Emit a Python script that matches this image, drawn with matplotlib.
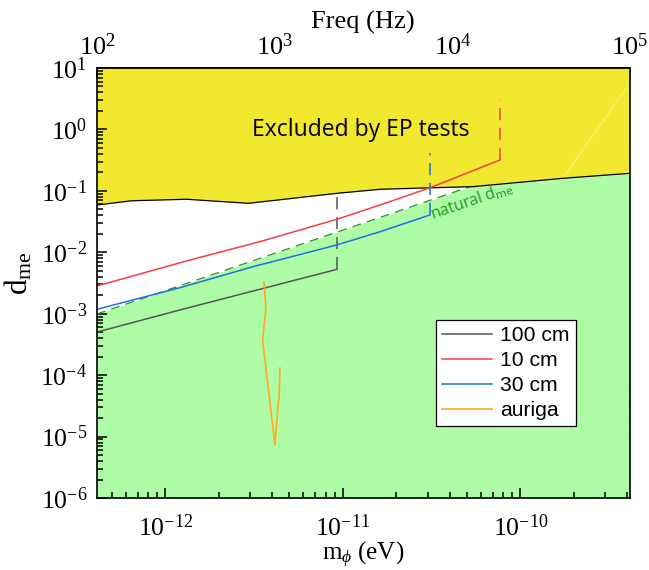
import matplotlib
matplotlib.use("Agg")
import matplotlib.pyplot as plt
import numpy as np
from matplotlib.ticker import FixedLocator, NullFormatter, FuncFormatter

plt.rcParams['font.family'] = ['Liberation Serif', 'DejaVu Serif']
plt.rcParams['mathtext.fontset'] = 'custom'
plt.rcParams['mathtext.rm'] = 'Liberation Serif'
plt.rcParams['mathtext.it'] = 'Liberation Serif:italic'
plt.rcParams['mathtext.bf'] = 'Liberation Serif:bold'

H_EV_S = 4.1357e-15  # eV*s, converts mass to frequency

# ---- data ----
x_limits = [4.1357e-13, 4.1357e-10]
y_limits = [1e-6, 1e1]
x_major = [1e-12, 1e-11, 1e-10]
y_major = [1e-6, 1e-5, 1e-4, 1e-3, 1e-2, 1e-1, 1e0, 1e1]
f_major = [1e2, 1e3, 1e4, 1e5]

ep_m = [4.1357e-13, 6.5e-13, 1.32e-12, 2.94e-12, 9.2e-12, 1.62e-11, 3.09e-11, 5.4e-11, 1.73e-10, 4.1357e-10]
ep_d = [0.0589, 0.069, 0.073, 0.0627, 0.091, 0.106, 0.112, 0.117, 0.16, 0.193]

natural_m = [4.1357e-13, 5.2e-11]
natural_d = [9.9e-4, 0.117]

cm100_m = [4.1357e-13, 1.21e-12, 9.27e-12]
cm100_d = [5.03e-4, 1.15e-3, 5.28e-3]
cm100_cut_d = [5.28e-3, 0.092]

cm10_m = [4.1357e-13, 1.38e-12, 3.42e-12, 9.24e-12, 1.62e-11, 3.09e-11, 7.66e-11]
cm10_d = [2.83e-3, 7.49e-3, 0.0149, 0.0344, 0.0589, 0.112, 0.318]
cm10_cut_d = [0.318, 3.01]

cm30_m = [4.1357e-13, 1.21e-12, 3.12e-12, 9.24e-12, 1.62e-11, 3.09e-11]
cm30_d = [1.18e-3, 2.65e-3, 5.82e-3, 0.01315, 0.0216, 0.0405]
cm30_cut_d = [0.0405, 0.41]

auriga_m = [3.60e-12, 3.69e-12, 3.54e-12, 4.15e-12, 4.39e-12, 4.43e-12]
auriga_d = [3.28e-3, 1.24e-3, 3.73e-4, 7.3e-6, 5.1e-5, 1.31e-4]

edge_d = [1e-6, 3.5e-4]
artifact_m = [1.73e-10, 4.0e-10]
artifact_d = [0.16, 5.0]

# ---- colours ----
c_yellow = '#F2E830'
c_green = '#AEFCA6'
c_gray = '#555555'
c_red = '#F2403F'
c_blue = '#1E6FE0'
c_orange = '#FFAA1E'
c_dgreen = '#2E8B2E'


def minor_ticks(lo, hi):
    out = []
    for e in range(int(np.floor(np.log10(lo))) - 1, int(np.ceil(np.log10(hi))) + 1):
        for s in range(2, 10):
            v = s * 10.0 ** e
            if lo <= v <= hi:
                out.append(v)
    return out


def pow_fmt(v, pos):
    e = int(round(np.log10(v)))
    return r'$\mathregular{10^{%d}}$' % e


fig = plt.figure(figsize=(6.49, 5.70), dpi=100)
ax = fig.add_axes([97/649, 1-498/570, (630-97)/649, (498-68)/570])
ax.set_xscale('log')
ax.set_yscale('log')
ax.set_xlim(*x_limits)
ax.set_ylim(*y_limits)

# excluded region
ax.fill_between(ep_m, ep_d, y_limits[1], color=c_yellow, lw=0, zorder=1)
ax.plot(ep_m, ep_d, color='black', lw=0.9, zorder=3)

# natural region: below natural line then below EP curve
gm = list(natural_m) + [m for m in ep_m if m > natural_m[-1]]
gd = list(natural_d) + [d for m, d in zip(ep_m, ep_d) if m > natural_m[-1]]
ax.fill_between(gm, y_limits[0], gd, color=c_green, lw=0, zorder=1)
ax.plot(natural_m, natural_d, color=c_dgreen, lw=0.9, dashes=(7, 5), zorder=2)
ax.plot([x_limits[1]*0.995]*2, edge_d, color=c_dgreen, lw=0.9, dashes=(7, 5), zorder=2)
ax.plot(artifact_m, artifact_d, color='white', lw=0.5, alpha=0.6, zorder=2)

# sensitivity curves
l100, = ax.plot(cm100_m, cm100_d, color=c_gray, lw=1.1, zorder=4, label='100 cm')
ax.plot([cm100_m[-1]]*2, cm100_cut_d, color=c_gray, lw=1.1, dashes=(8, 5), zorder=4)
l10, = ax.plot(cm10_m, cm10_d, color=c_red, lw=1.1, zorder=4, label='10 cm')
ax.plot([cm10_m[-1]]*2, cm10_cut_d, color=c_red, lw=1.1, dashes=(8, 5), zorder=4)
l30, = ax.plot(cm30_m, cm30_d, color=c_blue, lw=1.1, zorder=4, label='30 cm')
ax.plot([cm30_m[-1]]*2, cm30_cut_d, color=c_blue, lw=1.1, dashes=(8, 5), zorder=4)
la, = ax.plot(auriga_m, auriga_d, color=c_orange, lw=1.2, zorder=4, label='auriga')

# texts
ax.text(1.27e-11, 0.98, 'Excluded by EP tests', fontsize=16.5, family=['Open Sans', 'DejaVu Sans'],
        color='black', ha='center', va='center', zorder=5)
ax.text(3.25e-11, 0.029, r'natural d$_{\mathsf{me}}$', fontsize=11.5, family=['Open Sans', 'DejaVu Sans'],
        color='#22991F', rotation=19, ha='left', va='bottom', rotation_mode='anchor', zorder=5)

leg = ax.legend(handles=[l100, l10, l30, la], loc='upper left', bbox_to_anchor=(0.636, 0.414),
                frameon=True, fancybox=False, edgecolor='black', framealpha=1, borderpad=0.3,
                borderaxespad=0, handlelength=2.35, handletextpad=0.4, labelspacing=0.28,
                prop={'family': 'Liberation Sans', 'size': 15.2})
leg.get_frame().set_linewidth(0.9)
leg.set_zorder(6)

# axes styling
for s in ax.spines.values():
    s.set_linewidth(1.2)
    s.set_zorder(7)
ax.xaxis.set_major_locator(FixedLocator(x_major))
ax.xaxis.set_minor_locator(FixedLocator(minor_ticks(*x_limits)))
ax.yaxis.set_major_locator(FixedLocator(y_major))
ax.yaxis.set_minor_locator(FixedLocator(minor_ticks(*y_limits)))
ax.xaxis.set_major_formatter(FuncFormatter(pow_fmt))
ax.yaxis.set_major_formatter(FuncFormatter(pow_fmt))
ax.xaxis.set_minor_formatter(NullFormatter())
ax.yaxis.set_minor_formatter(NullFormatter())
ax.tick_params(which='both', direction='in', top=False, right=False, labelsize=18.5, width=1.1)
ax.tick_params(which='major', length=7)
ax.tick_params(which='minor', length=4)
ax.tick_params(axis='x', pad=12)
ax.tick_params(axis='y', pad=7)

ax.set_xlabel(r'm$_{\phi}$ (eV)', fontsize=18, labelpad=-1)
ax.set_ylabel(r'd$_{\mathrm{me}}$', fontsize=22.5)
ax.yaxis.set_label_coords(-0.118, 0.523)

top = ax.secondary_xaxis('top', functions=(lambda m: m / H_EV_S, lambda f: f * H_EV_S))
top.set_xscale('log')
top.xaxis.set_major_locator(FixedLocator(f_major))
top.xaxis.set_minor_locator(FixedLocator(minor_ticks(f_major[0], f_major[-1])))
top.xaxis.set_major_formatter(FuncFormatter(pow_fmt))
top.xaxis.set_minor_formatter(NullFormatter())
top.tick_params(which='both', direction='in', labelsize=19, width=1.1, pad=6)
top.tick_params(which='major', length=7)
top.tick_params(which='minor', length=4)
top.spines['top'].set_linewidth(1.2)

fig.text(363/649, 1-22/570, 'Freq (Hz)', fontsize=19, ha='center', va='center')

fig.savefig('out.png', dpi=100)
